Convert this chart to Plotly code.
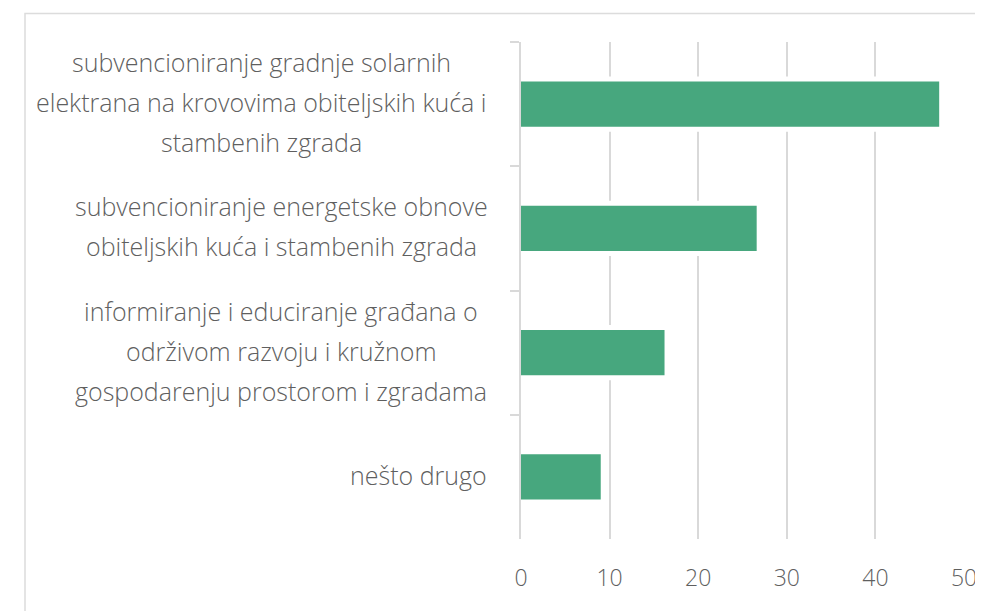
import plotly.graph_objects as go

categories = [
    "subvencioniranje gradnje solarnih<br>elektrana na krovovima obiteljskih kuća i<br>stambenih zgrada",
    "subvencioniranje energetske obnove<br>obiteljskih kuća i stambenih zgrada",
    "informiranje i educiranje građana o<br>održivom razvoju i kružnom<br>gospodarenju prostorom i zgradama",
    "nešto drugo",
]
values = [47.2, 26.6, 16.2, 9.0]
x_ticks = [0, 10, 20, 30, 40, 50]

green = "#47a77e"
grid = "#d9d9d9"
txt = "#5f5f5f"
font_family = "Open Sans"

# page body has an 8px margin, so the figure is shrunk and shifted by it
W, H = 975, 603
L, R, T, B = 513, 19, 34, 72
pw = W - L - R
ph = H - T - B

# horizontal centre (figure px) of each label block; blocks end near x=481
label_centers = [253.5, 273, 273, 410.5]

fig = go.Figure()
# white halo bar to break the gridlines around each bar
fig.add_trace(go.Bar(y=categories, x=values, orientation="h", width=0.445,
                     marker=dict(color="white", line=dict(width=0)),
                     hoverinfo="skip", showlegend=False))
fig.add_trace(go.Bar(y=categories, x=values, orientation="h", width=0.363,
                     marker=dict(color=green, line=dict(width=0)),
                     showlegend=False))

# category labels, one centred annotation per line for the wide line spacing
lbl_size = 25
line_gap = 40
for cat, cx in zip(categories, label_centers):
    lines = cat.split("<br>")
    n = len(lines)
    for i, ln in enumerate(lines):
        off = i - (n - 1) / 2
        fig.add_annotation(
            x=-(L - cx) / pw, xref="paper", y=cat, yref="y",
            text=ln, showarrow=False, xanchor="center", yanchor="middle",
            yshift=-off * line_gap + 2,
            font=dict(family=font_family, size=lbl_size, color=txt, weight=300),
        )

fig.add_shape(type="rect", xref="paper", yref="paper",
              x0=(17 - L) / pw, x1=(W + 20 - L) / pw,
              y0=-(B + 20) / ph, y1=1 + (T - 5.5) / ph,
              line=dict(color="#dcdcdc", width=1.5), layer="below")

fig.update_layout(
    width=W, height=H,
    margin=dict(l=L, r=R, t=T, b=B, autoexpand=False),
    barmode="overlay",
    plot_bgcolor="white", paper_bgcolor="white",
    font=dict(family=font_family, color=txt),
    xaxis=dict(range=[0, 50], tickvals=x_ticks, showgrid=True, gridcolor=grid,
               gridwidth=1.5, zeroline=False, showline=False,
               tickfont=dict(size=23, color=txt, weight=300), ticklen=0,
               ticklabelstandoff=23, fixedrange=True),
    yaxis=dict(autorange="reversed", showticklabels=False, showline=True,
               linecolor=grid, linewidth=1.5, ticks="outside",
               tickson="boundaries", ticklen=9, tickcolor=grid, tickwidth=1.5,
               showgrid=False, fixedrange=True),
)

fig.write_html("out.html")
